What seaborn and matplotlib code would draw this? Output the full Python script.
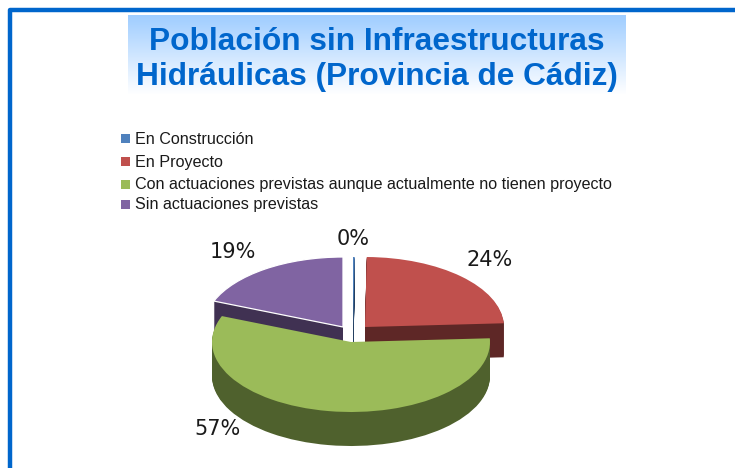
import numpy as np
import matplotlib.pyplot as plt
from matplotlib.patches import Rectangle
import seaborn as sns

categories = [
    "En Construcción",
    "En Proyecto",
    "Con actuaciones previstas aunque actualmente no tienen proyecto",
    "Sin actuaciones previstas",
]
values = [0.2, 24, 57, 19]
title_lines = ["Población sin Infraestructuras", "Hidráulicas (Provincia de Cádiz)"]

top_colors = ["#4F81BD", "#C0504D", "#9BBB59", "#8064A2"]
side_colors = ["#254061", "#5E2726", "#4F612D", "#403152"]
BLUE = "#0066CC"

W, H = 735, 468
RX, RY = 139, 70  # ellipse radii in px
DEPTH = 34

sns.set_theme(style="white")
plt.rcParams["font.family"] = ["Liberation Sans", "DejaVu Sans"]

fig = plt.figure(figsize=(W / 100, H / 100), dpi=100, facecolor="white")

# overlay in pixel coordinates for frame, title and legend
ax = fig.add_axes([0, 0, 1, 1])
ax.set_xlim(0, W)
ax.set_ylim(H, 0)
ax.axis("off")

ax.plot([10.5, 10.5, W + 5], [H + 5, 10, 10], color=BLUE, lw=3.2, solid_joinstyle="round")

grad = np.linspace(0, 1, 80).reshape(-1, 1)
top = np.array([0x9F, 0xCD, 0xFF]) / 255
img = top + (1 - top) * grad[..., None]
ax.imshow(img, extent=(128, 626, 95, 15), aspect="auto", zorder=1)
ax.set_xlim(0, W)
ax.set_ylim(H, 0)

for line, y in zip(title_lines, [41.5, 76.5]):
    ax.text(377, y, line, color=BLUE, fontsize=22.8, fontweight="bold",
            ha="center", va="center", zorder=2)

for cat, col, y in zip(categories, top_colors, [138, 161, 184, 204]):
    ax.add_patch(Rectangle((121, y - 4.5), 9, 9, color=col, lw=0))
    ax.text(135, y + 1, cat, fontsize=11.65, color="#1a1a1a", va="center", ha="left")

# pie axes: one data unit is RX px across and RY px down, so circles come out flat
pie_ax = fig.add_axes([0, 0, 1, 1], facecolor="none")


def draw_slice(i, px, py, color, edge="none"):
    wedges, _ = pie_ax.pie(
        values, center=(px / RX, -py / RY), radius=1, startangle=90, counterclock=False,
        colors=[color] * len(values), wedgeprops={"linewidth": 0.9 if edge != "none" else 0, "edgecolor": edge},
    )
    for j, w in enumerate(wedges):
        if j != i:
            w.remove()


# slice index, exploded centre in px, back to front
slices = [(3, 343, 327, "white"), (0, 353, 327, "none"), (1, 365, 327, "none"), (2, 351, 342, "none")]
for i, px, py, edge in slices:
    for d in range(DEPTH, 0, -1):
        draw_slice(i, px, py + d, side_colors[i])
    draw_slice(i, px, py, top_colors[i], edge)

pie_ax.set_aspect("auto")
pie_ax.set_xlim(0, W / RX)
pie_ax.set_ylim(-H / RY, 0)
pie_ax.axis("off")

label_pos = [(353, 239), (490, 260), (217, 429), (233, 252)]
for v, (x, y) in zip(values, label_pos):
    pie_ax.text(x / RX, -y / RY, f"{v:.0f}%", fontsize=15, color="#1a1a1a",
                family="DejaVu Sans", ha="center", va="center")

fig.savefig("out.png", dpi=100)
